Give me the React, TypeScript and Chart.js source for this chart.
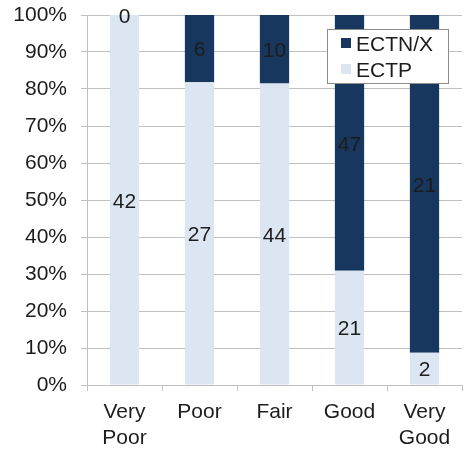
import React, { useEffect, useRef } from "react";
import { Chart, registerables } from "chart.js";

Chart.register(...registerables);

const categories: (string | string[])[] = [["Very", "Poor"], "Poor", "Fair", "Good", ["Very", "Good"]];
const ectpCounts = [42, 27, 44, 21, 2];
const ectnxCounts = [0, 6, 10, 47, 21];
const yTicks = [0, 10, 20, 30, 40, 50, 60, 70, 80, 90, 100];

const DARK = "#17375e";
const LIGHT = "#dce6f2";
const TEXT = "#1c1c1c";
const GRID = "#c0c0c0";
const FONT = "'Liberation Sans', Arial, sans-serif";

const totals = ectpCounts.map((v, i) => v + ectnxCounts[i]);
const ectpPct = ectpCounts.map((v, i) => (v / totals[i]) * 100);
const ectnxPct = ectnxCounts.map((v, i) => (v / totals[i]) * 100);
const countsByDataset = [ectpCounts, ectnxCounts];

const labelPlugin = {
  id: "segLabels",
  afterDatasetsDraw(chart: any) {
    const ctx = chart.ctx;
    ctx.save();
    ctx.font = `21px ${FONT}`;
    ctx.fillStyle = TEXT;
    ctx.textAlign = "center";
    ctx.textBaseline = "middle";
    chart.data.datasets.forEach((ds: any, di: number) => {
      const meta = chart.getDatasetMeta(di);
      meta.data.forEach((el: any, i: number) => {
        const cy = (el.y + el.base) / 2;
        ctx.fillText(String(countsByDataset[di][i]), el.x, cy + 2);
      });
    });
    ctx.restore();
  },
};

const legendPlugin = {
  id: "boxLegend",
  afterDraw(chart: any) {
    const ctx = chart.ctx;
    const x0 = 327, y0 = 29, w = 121, h = 54;
    ctx.save();
    ctx.fillStyle = "#ffffff";
    ctx.fillRect(x0, y0, w, h);
    ctx.strokeStyle = "#8c8c8c";
    ctx.lineWidth = 1;
    ctx.strokeRect(x0 + 0.5, y0 + 0.5, w, h);
    const items = [chart.data.datasets[1], chart.data.datasets[0]];
    ctx.font = `21px ${FONT}`;
    ctx.textBaseline = "middle";
    ctx.textAlign = "left";
    items.forEach((ds: any, k: number) => {
      const cy = y0 + 14 + k * 26;
      ctx.fillStyle = ds.backgroundColor;
      ctx.fillRect(x0 + 14, cy - 5, 10, 10);
      ctx.fillStyle = TEXT;
      ctx.fillText(ds.label, x0 + 29, cy + 2);
    });
    ctx.restore();
  },
};

export default function App() {
  const ref = useRef<HTMLCanvasElement>(null);
  useEffect(() => {
    const chart = new Chart(ref.current!, {
      type: "bar",
      data: {
        labels: categories,
        datasets: [
          { label: "ECTP", data: ectpPct, backgroundColor: LIGHT, borderWidth: 0, categoryPercentage: 1, barPercentage: 0.39 },
          { label: "ECTN/X", data: ectnxPct, backgroundColor: DARK, borderWidth: 0, categoryPercentage: 1, barPercentage: 0.39 },
        ],
      },
      options: {
        animation: false,
        responsive: false,
        layout: { padding: { top: 15, right: 3, left: 0, bottom: 0 } },
        plugins: { legend: { display: false }, tooltip: { enabled: false } },
        scales: {
          x: {
            stacked: true,
            grid: { display: true, drawOnChartArea: false, drawTicks: true, tickLength: 6, color: GRID },
            border: { color: GRID },
            ticks: { color: TEXT, font: { family: FONT, size: 21, lineHeight: 1.2 }, padding: 9, maxRotation: 0 },
            afterFit: (s: any) => { s.height = 66; s.paddingLeft = 0; s.paddingRight = 0; },
          },
          y: {
            stacked: true,
            min: 0,
            max: 100,
            afterBuildTicks: (s: any) => { s.ticks = yTicks.map((v) => ({ value: v })); },
            grid: { color: GRID, tickLength: 6 },
            border: { color: GRID },
            ticks: { color: TEXT, font: { family: FONT, size: 21 }, padding: 14, callback: (v: any) => v + "%" },
            afterFit: (s: any) => { s.width = 87; s.paddingTop = 0; s.paddingBottom = 0; },
          },
        },
      },
      plugins: [labelPlugin, legendPlugin],
    });
    return () => chart.destroy();
  }, []);
  return (
    <div style={{ position: "fixed", left: 0, top: 0, width: 465, height: 451, background: "#fff" }}>
      <canvas ref={ref} width={465} height={451} />
    </div>
  );
}
